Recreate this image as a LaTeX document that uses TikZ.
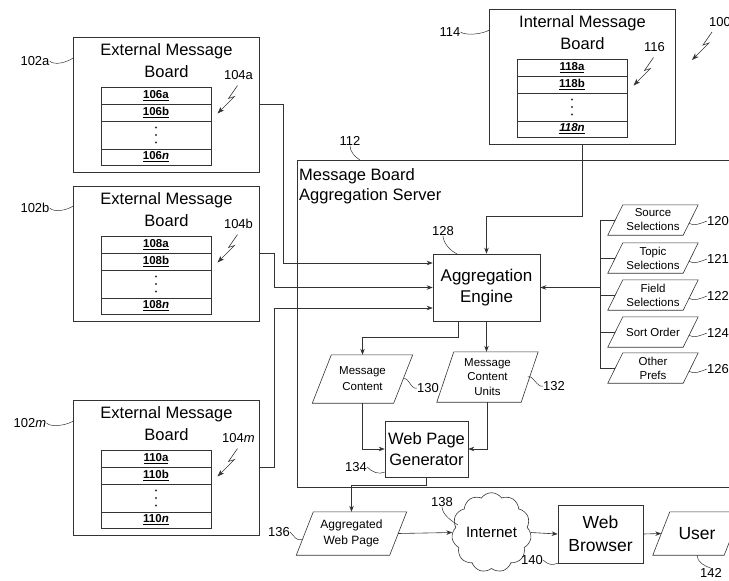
\documentclass[tikz,border=0pt]{standalone}
\usepackage{fontspec}
\setmainfont{Liberation Sans}
\usetikzlibrary{arrows.meta, positioning, shapes.symbols}

% parallelogram round a plain node: #1 node name, #2 half slant
\newcommand\parashape[2]{%
  \draw[line] ([xshift=-#2pt]#1.south west) -- ([xshift=#2pt]#1.north west)
    -- ([xshift=#2pt]#1.north east) -- ([xshift=-#2pt]#1.south east) -- cycle;}

\begin{document}
\begin{tikzpicture}[
  x=1pt, y=-1pt,
  line/.style={draw=black!80, line width=0.6pt},
  arr/.style={line, -{Stealth[length=6pt, width=4.5pt]}},
  box/.style={line, rectangle, inner sep=0pt},
  lead/.style={line, line width=0.5pt},
  num/.style={font=\fontsize{13}{15}\selectfont, inner sep=0pt},
  title/.style={align=center, font=\fontsize{16.5}{22}\selectfont, inner sep=0pt},
  row/.style={line, minimum width=110pt, minimum height=17pt, inner sep=0pt,
    font=\fontsize{11.5}{13}\selectfont\bfseries},
  paratext/.style={inner sep=0pt, align=center},
  bolt/.pic={
    \draw[line, -{Stealth[length=7pt, width=5pt]}]
      (0,0) -- (-9,13) -- (-3,11) -- (-20,28);
  },
  pics/msgboard/.style n args={5}{code={
    \node[box, minimum width=186pt, minimum height=135pt] (-box) at (0,0) {};
    \node[title] (-title) at (0,-43.5) {#1\\Board};
    \node[row] (-ra) at (-10.5,-9) {\underline{#2}};
    \node[row] (-rb) at (-10.5,8) {\underline{#3}};
    \node[row, minimum height=28pt] (-rd) at (-10.5,30.5) {};
    \foreach \d in {23,30.5,38}
      \fill[black!80] (-10.5,\d) circle (1.1pt);
    \node[row, minimum height=16pt] (-rn) at (-10.5,52.5) {\underline{#4}};
    \node[num] (-lbl) at (72,-29.5) {#5};
    \pic at (71,-19) {bolt};
  }},
]
  \useasboundingbox (0,0) rectangle (729,581);
  \clip (0,0) rectangle (729,581);

  % server frame
  \node[box, anchor=north west, minimum width=450pt, minimum height=327pt]
    (server) at (297,160) {};
  \node[anchor=north west, align=left, inner sep=2pt,
    font=\fontsize{16.5}{20}\selectfont] (srvtext) at (297,166)
    {Message Board\\Aggregation Server};

  % message boards
  \pic (extA) at (166.5,104.5)
    {msgboard={External Message}{106a}{106b}{106\textit{n}}{104a}};
  \pic (extB) at (166.5,253.5)
    {msgboard={External Message}{108a}{108b}{108\textit{n}}{104b}};
  \pic (extM) at (166.5,467.5)
    {msgboard={External Message}{110a}{110b}{110\textit{n}}{104\textit{m}}};
  \pic (intb) at (582.5,76.5)
    {msgboard={Internal Message}{118a}{118b}{\textit{118n}}{116}};

  % engine and generator
  \node[box, minimum width=107pt, minimum height=67pt, align=center,
    font=\fontsize{17}{21}\selectfont] (engine) at (486.5,287.5)
    {Aggregation\\Engine};
  \node[box, minimum width=83pt, minimum height=56pt, align=center,
    font=\fontsize{16.5}{21}\selectfont] (gen) at (426.5,449)
    {Web Page\\Generator};

  % data items
  \node[paratext, minimum width=81pt, minimum height=48pt,
    font=\fontsize{11.5}{16}\selectfont] (msgc) at (362.5,379)
    {Message\\Content};
  \parashape{msgc}{9.5}
  \node[paratext, minimum width=84pt, minimum height=50pt,
    font=\fontsize{11.5}{14.5}\selectfont] (msgu) at (487.5,377)
    {Message\\Content\\Units};
  \parashape{msgu}{8.5}
  \node[paratext, minimum width=93pt, minimum height=43pt,
    font=\fontsize{12}{16}\selectfont] (agg) at (351.5,533.5)
    {Aggregated\\Web Page};
  \parashape{agg}{8.5}
  \node[paratext, minimum width=71pt, minimum height=43pt,
    font=\fontsize{17.5}{20}\selectfont] (user) at (697,533.5) {User};
  \parashape{user}{8.5}

  % preferences
  \foreach \p/\y/\txt in {src/220/Source\\Selections, top/258/Topic\\Selections,
      fld/295/Field\\Selections, srt/332/Sort Order, oth/368/Other\\Prefs} {
    \node[paratext, minimum width=75pt, minimum height=30pt,
      font=\fontsize{11.5}{14}\selectfont] (\p) at (653,\y) {\txt};
    \parashape{\p}{7.5}
  }

  % network
  \node[cloud, line, cloud puffs=11, cloud puff arc=110, aspect=1,
    minimum width=77pt, minimum height=74pt, inner sep=0pt,
    font=\fontsize{15}{18}\selectfont] (net) at (491.5,532.5) {Internet};
  \node[box, minimum width=85pt, minimum height=58pt, align=center,
    font=\fontsize{17.5}{23}\selectfont] (web) at (600.5,534)
    {Web\\Browser};

  % connectors
  \draw[arr] (extA-box.east) -| (283,263) -- (engine.west |- 0,263);
  \draw[arr] (extB-box.east) -| (274,287.5) -- (engine.west);
  \draw[arr] (extM-box.east) -| (274,308) -- (engine.west |- 0,308);
  \draw[arr] (intb-box.south) -- ++(0,72) -| (engine.north);
  \draw[arr] (engine.south -| 458,0) -- ++(0,16) -| (msgc.north);
  \draw[arr] (engine.south) -- (engine.south |- msgu.north);
  \draw[arr] (msgc.south) |- (gen.west);
  \draw[arr] (msgu.south) |- (gen.east);
  \draw[arr] (gen.south) -- ++(0,8) -| (agg.north);
  \draw[arr] (agg.east) -- (net.west);
  \draw[arr] (net.east) -- (web.west);
  \draw[arr] (web.east) -- (user.west);

  \coordinate (brk) at (600,287.5);
  \draw[arr] (brk) -- (engine.east);
  \foreach \p in {src,top,fld,srt,oth}
    \draw[line] (\p.west) -- (\p.west -| brk);
  \draw[line] (src.west -| brk) -- (oth.west -| brk);

  % reference numerals
  \node[num] (l100) at (720,22) {100};
  \pic at (712,32) {bolt};
  \node[num] (l102a) at (35,61) {102a};
  \draw[lead] (l102a.east) .. controls +(5,5) and +(-6,4) .. (extA-box.west |- 0,58);
  \node[num] (l102b) at (35,208) {102b};
  \draw[lead] (l102b.east) .. controls +(5,5) and +(-6,4) .. (extB-box.west |- 0,206);
  \node[num] (l102m) at (30,423) {102\textit{m}};
  \draw[lead] (l102m.east) .. controls +(5,5) and +(-6,4) .. (extM-box.west |- 0,421);
  \node[num] (l114) at (450,32) {114};
  \draw[lead] (l114.east) .. controls +(5,4) and +(-6,4) .. (intb-box.west |- 0,30);
  \node[num] (l112) at (350,141) {112};
  \draw[lead] (l112.south) .. controls +(0,6) and +(-5,-3) .. (server.north west -| 360,0);
  \node[num] (l128) at (443,231) {128};
  \draw[lead] (l128.south) .. controls +(0,7) and +(-6,-2) .. (engine.north west -| 457,0);
  \node[num] (l130) at (428,388) {130};
  \draw[lead] (msgc.east) .. controls +(5,-3) and +(-6,2) .. (l130.west);
  \node[num] (l132) at (554,386) {132};
  \draw[lead] ([xshift=-2pt]msgu.east) .. controls +(5,-3) and +(-6,2) .. (l132.west);
  \node[num] (l134) at (356,467) {134};
  \draw[lead] (l134.east) .. controls +(5,5) and +(-6,3) .. (gen.west |- 0,472);
  \node[num] (l136) at (279,532) {136};
  \draw[lead] (l136.east) .. controls +(4,4) and +(-5,2) .. ([xshift=-3pt, yshift=-6pt]agg.west);
  \node[num] (l138) at (442,502) {138};
  \draw[lead] (l138.south) .. controls +(0,8) and +(-5,-3) .. (458,525);
  \node[num] (l140) at (532,560) {140};
  \draw[lead] (l140.east) .. controls +(5,5) and +(-5,2) .. (web.south west);
  \node[num] (l142) at (711,573) {142};
  \draw[lead] (user.south) .. controls +(0,7) and +(-6,-2) .. (l142.north);
  \foreach \p/\y/\n in {src/221/120, top/259/121, fld/296/122, srt/333/124, oth/369/126} {
    \node[num, anchor=west] (l\n) at (707,\y) {\n};
    \draw[lead] ([xshift=-2pt, yshift=-3pt]\p.east) .. controls +(4,4) and +(-5,2) .. (l\n.west);
  }
\end{tikzpicture}
\end{document}
